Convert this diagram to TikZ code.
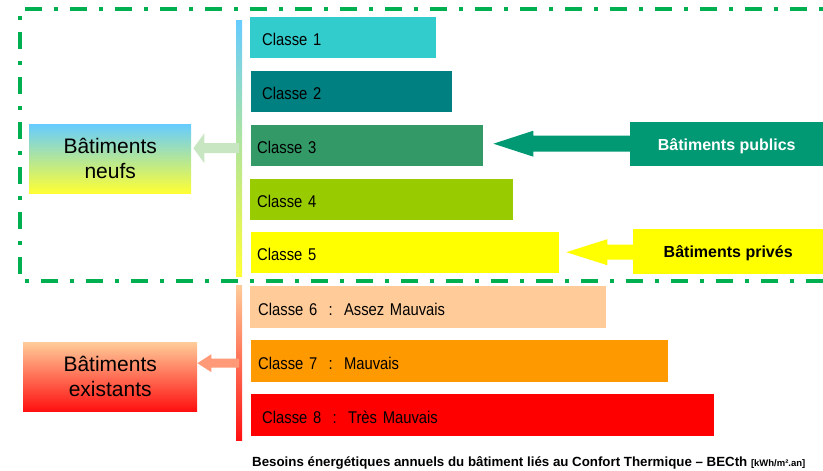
\documentclass[tikz,border=0pt]{standalone}
\usepackage{fontspec}
\setmainfont{Liberation Sans}
\newfontfamily\condfont[FakeStretch=0.87]{Liberation Sans}
\usetikzlibrary{calc}
\definecolor{cA}{HTML}{33CCCC}
\definecolor{cB}{HTML}{008080}
\definecolor{cC}{HTML}{339966}
\definecolor{cD}{HTML}{99CC00}
\definecolor{cE}{HTML}{FFFF00}
\definecolor{cF}{HTML}{FFCC99}
\definecolor{cG}{HTML}{FF9900}
\definecolor{cH}{HTML}{FF0000}
\definecolor{pub}{HTML}{009973}
\definecolor{dgreen}{HTML}{00B050}
\definecolor{skyb}{HTML}{66CCFF}
\definecolor{yel}{HTML}{FFFF33}
\definecolor{lgreen}{HTML}{C8E6C2}
\definecolor{salmon}{HTML}{FF9977}
\definecolor{peach}{HTML}{FFCC99}
\definecolor{redb}{HTML}{FF1010}
\tikzset{
  cls/.style={rectangle, anchor=north west, inner xsep=9pt, inner ysep=0pt,
    minimum height=41pt, align=left, text height=16pt, text depth=0pt,
    font=\condfont\fontsize{17}{20}\selectfont},
  bigbox/.style={rectangle, anchor=north west, inner sep=0pt, align=center,
    font=\fontsize{21}{25}\selectfont},
  tagbox/.style={rectangle, anchor=north west, inner sep=0pt,
    text height=12pt, text depth=0pt, font=\bfseries\fontsize{16}{19}\selectfont},
  vbar/.style={rectangle, anchor=north, inner sep=0pt, minimum width=6pt},
  dashline/.style={draw=dgreen, line width=4pt,
    dash pattern=on 17pt off 12pt on 4pt off 12pt}
}
\begin{document}
\begin{tikzpicture}[x=1pt,y=-1pt]
\useasboundingbox (0,0) rectangle (823,471);
% dash-dot frame
\draw[dashline] (823,281) -- (20,281) -- (20,9) -- (823,9);
% vertical bars
\node[vbar, top color=skyb, bottom color=yel, minimum height=256pt] (bartop) at (239,20) {};
\node[vbar, top color=peach, bottom color=redb, minimum height=155pt] (barbot) at (239,285) {};
% classes
\node[cls, fill=cA, inner xsep=12pt, text width=162pt] (c1) at (250,17) {Classe 1};
\node[cls, fill=cB, inner xsep=11pt, text width=179pt] (c2) at (251,71) {Classe 2};
\node[cls, fill=cC, inner xsep=6pt, text width=220pt] (c3) at (251,125) {Classe 3};
\node[cls, fill=cD, inner xsep=7pt, text width=249pt] (c4) at (250,179) {Classe 4};
\node[cls, fill=cE, inner xsep=6pt, text width=296pt] (c5) at (251,232) {Classe 5};
\node[cls, fill=cF, minimum height=42pt, inner xsep=8pt, text width=340pt] (c6) at (250,286) {Classe 6~~:~~Assez Mauvais};
\node[cls, fill=cG, minimum height=42pt, inner xsep=7pt, text width=403pt] (c7) at (251,340) {Classe 7~~:~~Mauvais};
\node[cls, fill=cH, minimum height=42pt, inner xsep=11pt, text width=441pt] (c8) at (251,394) {Classe 8~~:~~Très Mauvais};
% building groups
\node[bigbox, top color=skyb, bottom color=yel, minimum width=162pt, minimum height=69pt] (neufs) at (29,124) {Bâtiments\\neufs};
\node[bigbox, top color=peach, bottom color=redb, minimum width=174pt, minimum height=69pt] (exist) at (23,342) {Bâtiments\\existants};
\node[tagbox, fill=pub, text=white, minimum width=193pt, minimum height=44pt] (pub) at (630,122) {Bâtiments publics};
\node[tagbox, fill=cE, text=black, minimum width=190pt, minimum height=45pt] (priv) at (633,229) {Bâtiments privés};
% arrows
\coordinate (tN) at ($(neufs.east)+(2,-10.5)$);
\fill[lgreen] (tN) -- ++(11,-15) -- ++(0,10) -- ($(tN -| bartop.center)+(0,-5)$) -- ++(0,10) -- ($(tN)+(11,5)$) -- ++(0,10) -- cycle;
\coordinate (tE) at ($(exist.east)+(0,-13.5)$);
\fill[salmon] (tE) -- ++(14,-9) -- ++(0,4.5) -- ($(tE -| barbot.center)+(0,-4.5)$) -- ++(0,9) -- ($(tE)+(14,4.5)$) -- ++(0,4.5) -- cycle;
\coordinate (tP) at ($(c3.east)+(10,-2)$);
\fill[pub] (tP) -- ++(40,-13) -- ++(0,5) -- ($(tP -| pub.west)+(0,-8)$) -- ++(0,16) -- ($(tP)+(40,8)$) -- ++(0,5) -- cycle;
\coordinate (tV) at ($(c5.east)+(7,-0.5)$);
\fill[cE] (tV) -- ++(41,-13) -- ++(0,5.5) -- ($(tV -| priv.west)+(0,-7.5)$) -- ++(0,15) -- ($(tV)+(41,7.5)$) -- ++(0,5.5) -- cycle;
% caption
\node[anchor=base west, inner sep=0pt, font=\bfseries\fontsize{13.3}{16}\selectfont] (cap) at (252,466)
  {Besoins énergétiques annuels du bâtiment liés au Confort Thermique – BECth {\fontsize{9.5}{11}\selectfont[kWh/m².an]}};
\end{tikzpicture}
\end{document}
